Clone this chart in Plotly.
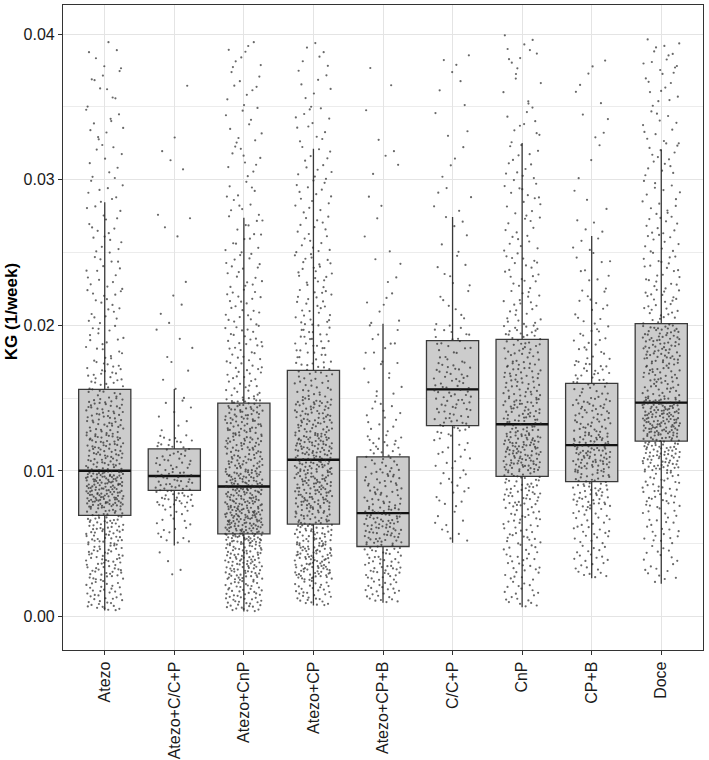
import plotly.graph_objects as go

# ---------------- data ----------------
categories = ["Atezo", "Atezo+C/C+P", "Atezo+CnP", "Atezo+CP", "Atezo+CP+B",
              "C/C+P", "CnP", "CP+B", "Doce"]

q1 = [0.00694, 0.00866, 0.00568, 0.00635, 0.00481, 0.01311, 0.00962, 0.00926, 0.01205]
median = [0.01001, 0.00965, 0.00893, 0.01077, 0.00710, 0.01560, 0.01320, 0.01177, 0.01469]
q3 = [0.01560, 0.01152, 0.01466, 0.01691, 0.01097, 0.01895, 0.01904, 0.01601, 0.02012]
lower_whisker = [0.00041, 0.00488, 0.00034, 0.00076, 0.00094, 0.00506, 0.00064, 0.00263, 0.00225]
upper_whisker = [0.02845, 0.01562, 0.02738, 0.03212, 0.02011, 0.02744, 0.03253, 0.02614, 0.03207]

# observed range of the jittered observations
min_value = [0.00040, 0.00260, 0.00034, 0.00076, 0.00094, 0.00506, 0.00064, 0.00263, 0.00225]
max_value = [0.03970, 0.03720, 0.03960, 0.04000, 0.03800, 0.03880, 0.04000, 0.03830, 0.03970]

# estimated number of observations per KG bin (bins of 0.0025 from 0 to 0.04)
bin_edges = [0.0, 0.0025, 0.005, 0.0075, 0.01, 0.0125, 0.015, 0.0175, 0.02,
             0.0225, 0.025, 0.0275, 0.03, 0.0325, 0.035, 0.0375, 0.04]
counts_atezo = [40, 60, 70, 130, 75, 60, 35, 20, 18, 16, 14, 12, 10, 10, 9, 6]
counts_atezo_ccp = [0, 4, 20, 57, 37, 8, 5, 4, 4, 1, 3, 1, 3, 1, 1, 0]
counts_atezo_cnp = [55, 90, 130, 110, 75, 75, 30, 28, 22, 18, 15, 12, 10, 10, 9, 8]
counts_atezo_cp = [35, 90, 77, 92, 95, 70, 37, 30, 26, 22, 18, 15, 13, 12, 8, 6]
counts_atezo_cpb = [25, 51, 71, 45, 32, 14, 10, 10, 7, 4, 3, 2, 4, 2, 1, 1]
counts_ccp = [0, 0, 10, 15, 16, 38, 37, 23, 8, 7, 6, 5, 4, 3, 4, 3]
counts_cnp = [20, 30, 35, 54, 90, 66, 50, 42, 22, 20, 15, 15, 13, 10, 6, 10]
counts_cpb = [0, 25, 30, 57, 82, 50, 35, 20, 14, 10, 8, 3, 3, 4, 4, 2]
counts_doce = [1, 18, 25, 40, 83, 117, 55, 70, 30, 22, 20, 15, 15, 12, 12, 13]

y_ticks = [0.00, 0.01, 0.02, 0.03, 0.04]
y_title = "KG (1/week)"

# ---------------- styling ----------------
FONT = "Liberation Sans, Arial, sans-serif"
BOX_WIDTH = 0.75
JITTER = 0.27

all_counts = [counts_atezo, counts_atezo_ccp, counts_atezo_cnp, counts_atezo_cp,
              counts_atezo_cpb, counts_ccp, counts_cnp, counts_cpb, counts_doce]


def vdc(n, base):
    """van der Corput low-discrepancy value (deterministic spread, not random)."""
    v, denom = 0.0, 1.0
    while n:
        n, r = divmod(n, base)
        denom *= base
        v += r / denom
    return v


pos = list(range(len(categories)))

fig = go.Figure()

fig.add_trace(go.Box(
    x=pos, q1=q1, median=median, q3=q3,
    lowerfence=lower_whisker, upperfence=upper_whisker,
    width=BOX_WIDTH, boxpoints=False, whiskerwidth=0,
    fillcolor="#cccccc", line=dict(color="#3a3a3a", width=1.3),
    showlegend=False, hoverinfo="skip",
))

# thicker median bars (ggplot style)
mx, my = [], []
for i, m in enumerate(median):
    mx += [i - BOX_WIDTH / 2, i + BOX_WIDTH / 2, None]
    my += [m, m, None]
fig.add_trace(go.Scatter(x=mx, y=my, mode="lines",
                         line=dict(color="#111111", width=2.4),
                         showlegend=False, hoverinfo="skip"))

# jittered observations
px, py = [], []
for i, counts in enumerate(all_counts):
    idx = 0
    for b, c in enumerate(counts):
        lo = max(bin_edges[b], min_value[i])
        hi = min(bin_edges[b + 1], max_value[i])
        for k in range(c):
            idx += 1
            py.append(lo + (hi - lo) * vdc(idx, 2))
            px.append(i + (2 * vdc(idx, 3) - 1) * JITTER)
fig.add_trace(go.Scatter(x=px, y=py, mode="markers",
                         marker=dict(size=2.2, color="rgba(40,40,40,0.7)", line=dict(width=0)),
                         showlegend=False, hoverinfo="skip"))

fig.update_layout(
    width=709, height=760,
    margin=dict(l=63, r=6, t=5, b=110),
    paper_bgcolor="white", plot_bgcolor="white",
    font=dict(family=FONT, size=16, color="#1a1a1a"),
)
fig.update_xaxes(
    range=[-0.6, 8.6], tickmode="array", tickvals=pos, ticktext=categories,
    tickangle=-90, ticks="outside", ticklen=4, tickcolor="#333333",
    showgrid=True, gridcolor="#e4e4e4", gridwidth=1.2, zeroline=False,
    showline=True, linecolor="#333333", linewidth=1.2, mirror=True,
    automargin=False,
    tickfont=dict(family=FONT, size=16, color="#1a1a1a"),
)
fig.update_yaxes(
    range=[-0.0023, 0.0420], tickmode="array", tickvals=y_ticks, tickformat=".2f",
    ticks="outside", ticklen=4, tickcolor="#333333",
    showgrid=True, gridcolor="#e4e4e4", gridwidth=1.2, zeroline=False,
    minor=dict(dtick=0.005, tick0=0, showgrid=True, gridcolor="#ececec", gridwidth=0.8),
    showline=True, linecolor="#333333", linewidth=1.2, mirror=True,
    automargin=False,
    tickfont=dict(family=FONT, size=16, color="#1a1a1a"),
)

# y-axis title placed as rotated text left of the tick labels
fig.add_annotation(
    text="<b>" + y_title + "</b>", textangle=-90,
    xref="paper", yref="paper", x=-0.08, y=0.525,
    xanchor="center", yanchor="middle", showarrow=False,
    font=dict(family=FONT, size=17, color="#000000"),
)

fig.write_html("out.html", config={"displayModeBar": False},
               post_script="document.body.style.margin='0';")
